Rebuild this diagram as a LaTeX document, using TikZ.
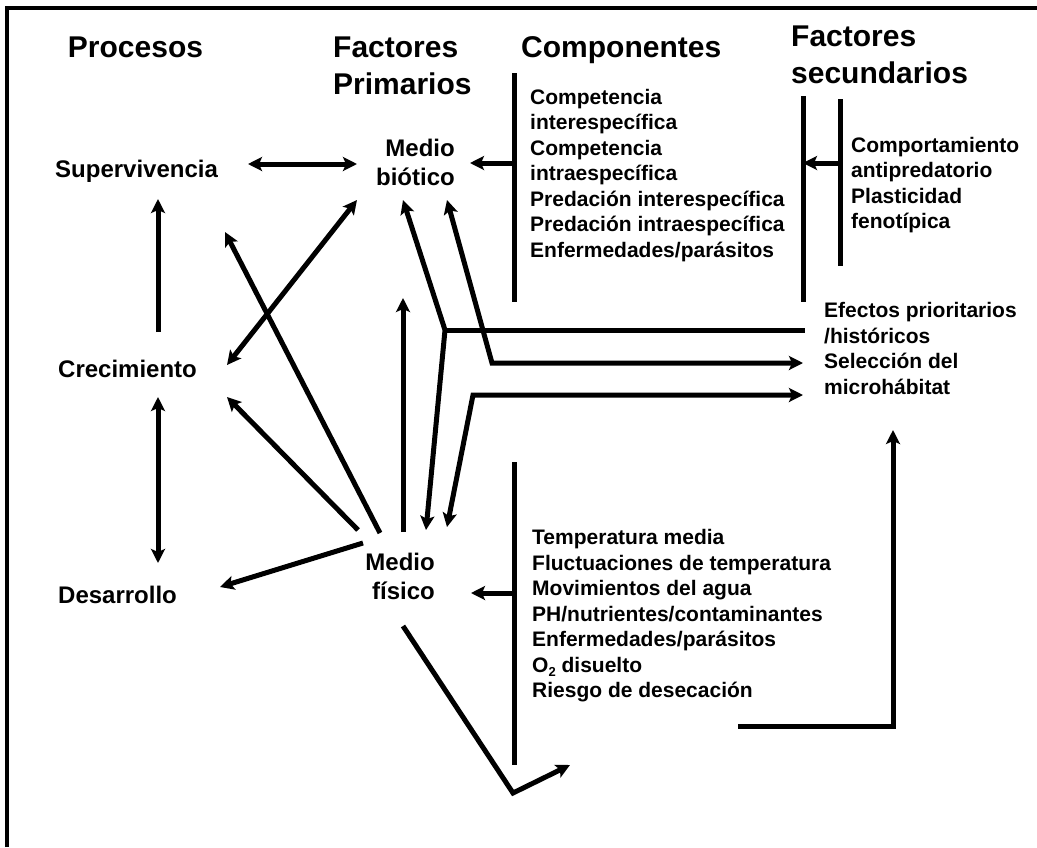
\documentclass[tikz,border=0pt]{standalone}
\usepackage{fontspec}
\setmainfont{Liberation Sans}
\usetikzlibrary{arrows.meta}
\tikzset{
  hdr/.style={font=\bfseries\fontsize{30}{37}\selectfont, inner sep=0pt, align=left},
  lbl/.style={font=\bfseries\fontsize{24}{29}\selectfont, inner sep=0pt},
  lst/.style={font=\bfseries\fontsize{21}{25.5}\selectfont, inner sep=0pt, align=left, anchor=west},
  ln/.style={line width=5pt},
  arr/.style={line width=5pt, -{Stealth[length=14pt,width=14pt,inset=3pt]}},
  darr/.style={line width=5pt, {Stealth[length=14pt,width=14pt,inset=3pt]}-{Stealth[length=14pt,width=14pt,inset=3pt]}}
}
\newcommand{\lowtwo}{\raisebox{-0.35ex}{\fontsize{13}{13}\selectfont 2}}
\begin{document}
\begin{tikzpicture}[x=1pt,y=-1pt]
\useasboundingbox (0,0) rectangle (1037,847);
% frame
\draw [line width=4pt] (6.5,847) -- (6.5,8) -- (1037,8);

% headers
\node [hdr] (hproc) at (135.5,47) {Procesos};
\node [hdr, anchor=west] (hprim) at (333,66) {Factores\\Primarios};
\node [hdr, anchor=west] (hcomp) at (521,50) {Componentes};
\node [hdr, anchor=west] (hsec) at (791,55) {Factores\\secundarios};

% processes and primary factors
\node [lbl, anchor=west] (sup) at (55,171) {Supervivencia};
\node [lbl, anchor=west] (crec) at (58,369) {Crecimiento};
\node [lbl, anchor=west] (des) at (58,595) {Desarrollo};
\node [lbl, anchor=east, align=right] (bio) at (455,162) {Medio\\biótico};
\node [lbl, anchor=east, align=right] (fis) at (435,576) {Medio\\físico};

% component lists
\node [lst] (comp) at (530,175.5) {Competencia\\interespecífica\\Competencia\\intraespecífica\\Predación interespecífica\\Predación intraespecífica\\Enfermedades/parásitos};
\node [lst] (sec) at (851,185) {Comportamiento\\antipredatorio\\Plasticidad\\fenotípica};
\node [lst] (efe) at (824,348.5) {Efectos prioritarios\\/históricos\\Selección del\\microhábitat};
\node [lst] (phys) at (532,616) {Temperatura media\\Fluctuaciones de temperatura\\Movimientos del agua\\PH/nutrientes/contaminantes\\Enfermedades/parásitos\\O\lowtwo{} disuelto\\Riesgo de desecación};

% end points
\coordinate (sup-r) at (248,164);
\coordinate (bio-l) at (357,164);
\coordinate (sup-b) at (158,199);
\coordinate (crec-t) at (158,332);
\coordinate (crec-b) at (158,397);
\coordinate (des-t) at (158,563);
\coordinate (crec-ne) at (227,365);
\coordinate (bio-sw) at (357,200);
\coordinate (sup-se) at (225,232);
\coordinate (crec-se) at (227,397);
\coordinate (des-ne) at (220,587);
\coordinate (fis-a) at (380,533);
\coordinate (fis-b) at (358,530);
\coordinate (fis-c) at (363,543);
\coordinate (fis-t) at (403,532);
\coordinate (bio-b) at (403,298);
\coordinate (bio-s1) at (403,200);
\coordinate (bio-s2) at (447,200);
\coordinate (fis-n1) at (426,530);
\coordinate (fis-n2) at (447,527);
\coordinate (j1) at (445,330);
\coordinate (j2) at (492,363);
\coordinate (j3) at (473,395);
\coordinate (efe-a) at (805,330);
\coordinate (efe-b) at (803,363);
\coordinate (efe-c) at (803,395);
\coordinate (fis-s) at (403,626);
\coordinate (v1) at (513,793);
\coordinate (v2) at (570,765);
\coordinate (r1) at (738,726);
\coordinate (r2) at (893,726);
\coordinate (efe-s) at (893,430);

% bars
\draw [ln] (514,73) coordinate (cb1) -- (514,302) coordinate (cb2);
\draw [ln] (514,462) coordinate (pb1) -- (514,765) coordinate (pb2);
\draw [ln] (803,96) coordinate (sb1) -- (803,302) coordinate (sb2);
\draw [ln] (840,99) coordinate (sb3) -- (840,266) coordinate (sb4);
\draw [arr] (cb1 |- 0,163) -- (470,163) coordinate (bio-r);
\draw [arr] (pb1 |- 0,593) -- (471,593) coordinate (fis-r);
\draw [arr] (sb3 |- 0,163) -- (sb1 |- 807,163);

% arrows
\draw [darr] (sup-r) -- (bio-l);
\draw [arr] (crec-t) -- (sup-b);
\draw [darr] (crec-b) -- (des-t);
\draw [darr] (crec-ne) -- (bio-sw);
\draw [arr] (fis-a) -- (sup-se);
\draw [arr] (fis-b) -- (crec-se);
\draw [arr] (fis-c) -- (des-ne);
\draw [arr] (fis-t) -- (bio-b);
\draw [darr] (bio-s1) -- (j1) -- (fis-n1);
\draw [ln] (j1) -- (efe-a);
\draw [darr] (bio-s2) -- (j2) -- (efe-b);
\draw [darr] (fis-n2) -- (j3) -- (efe-c);
\draw [arr] (r1) -- (r2) -- (efe-s);
\draw [arr] (fis-s) -- (v1) -- (v2);
\end{tikzpicture}
\end{document}
